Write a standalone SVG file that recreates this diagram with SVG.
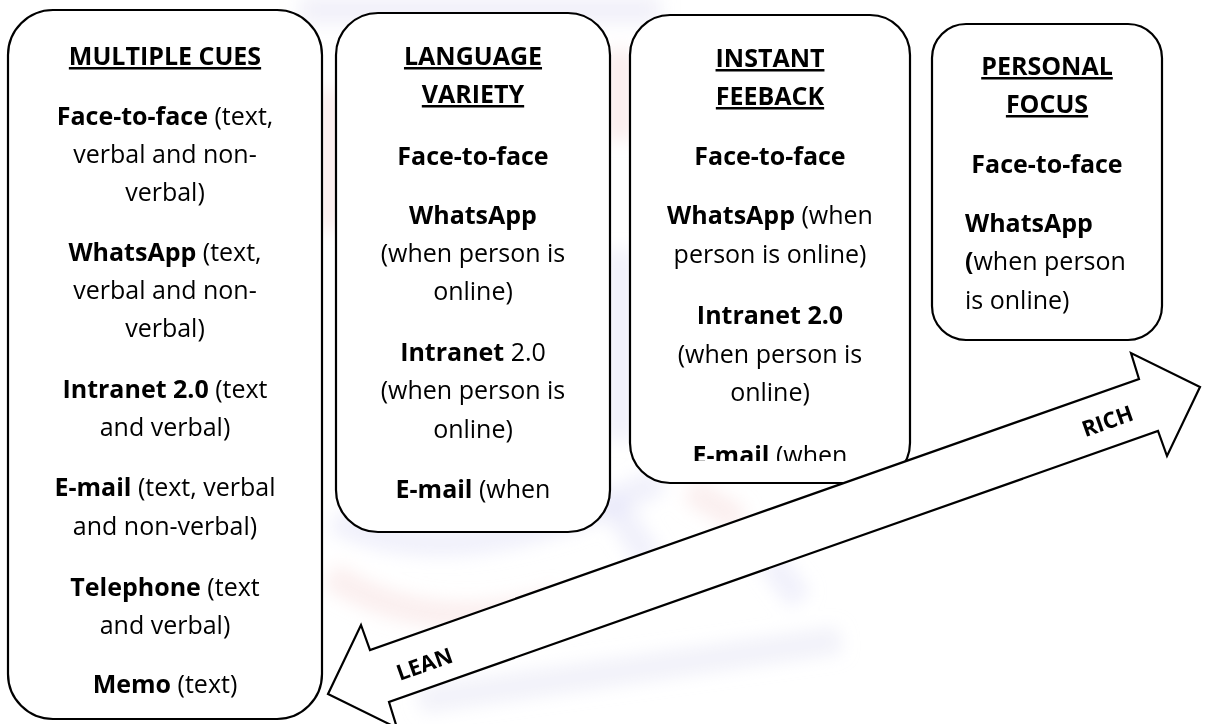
<svg xmlns="http://www.w3.org/2000/svg" width="1206" height="724" viewBox="0 0 1206 724">
  <defs>
    <style>
      .box { fill: #ffffff; stroke: #000000; stroke-width: 2.2; }
      .t { font-family: "Open Sans", Lato, "Liberation Sans", sans-serif; font-size: 25px; fill: #000000; text-anchor: middle; }
      .l { text-anchor: start; }
      .b { font-weight: bold; }
      .h { font-weight: bold; text-decoration: underline; }
      .arrow { fill: #ffffff; stroke: #000000; stroke-width: 2.2; stroke-linejoin: miter; }
      .lab { font-family: "Open Sans", Lato, "Liberation Sans", sans-serif; font-size: 22px; font-weight: bold; fill: #000000; text-anchor: middle; dominant-baseline: central; }
      .wm { fill: none; stroke-width: 26; opacity: 0.5; }
    </style>
    <filter id="soft" x="-20%" y="-20%" width="140%" height="140%">
      <feGaussianBlur stdDeviation="9"/>
    </filter>
    <clipPath id="clip3">
      <rect x="630" y="15" width="280" height="446"/>
    </clipPath>
  </defs>

  <rect width="1206" height="724" fill="#ffffff"/>

  <!-- faint emblem in the background -->
  <g id="watermark" filter="url(#soft)">
    <path class="wm" stroke="#e4e2f4" d="M300,10 L660,10"/>
    <path class="wm" stroke="#f6dada" d="M330,90 L330,230"/>
    <path class="wm" stroke="#f6dada" d="M620,50 L620,140"/>
    <path class="wm" stroke="#e2e2f6" d="M620,250 L620,440"/>
    <path class="wm" stroke="#e2e2f8" d="M335,520 Q460,580 660,480"/>
    <path class="wm" stroke="#f8dddd" d="M330,575 Q430,640 560,600"/>
    <path class="wm" stroke="#f8dddd" d="M690,490 L740,520"/>
    <path class="wm" stroke="#e4e4f4" stroke-width="60" d="M420,700 L840,640"/>
    <path class="wm" stroke="#e2e2f8" d="M610,500 L650,560 M770,560 L800,600"/>
  </g>

  <!-- MULTIPLE CUES -->
  <g id="multiple-cues">
    <rect class="box" x="8" y="10" width="314" height="709" rx="45" ry="45"/>
    <text class="t h" x="165" y="65">MULTIPLE CUES</text>
    <text class="t" x="165" y="125"><tspan class="b">Face-to-face</tspan> (text,</text>
    <text class="t" x="165" y="163">verbal and non-</text>
    <text class="t" x="165" y="201">verbal)</text>
    <text class="t" x="165" y="261"><tspan class="b">WhatsApp</tspan> (text,</text>
    <text class="t" x="165" y="299">verbal and non-</text>
    <text class="t" x="165" y="337">verbal)</text>
    <text class="t" x="165" y="398"><tspan class="b">Intranet 2.0</tspan> (text</text>
    <text class="t" x="165" y="436">and verbal)</text>
    <text class="t" x="165" y="496"><tspan class="b">E-mail</tspan> (text, verbal</text>
    <text class="t" x="165" y="535">and non-verbal)</text>
    <text class="t" x="165" y="596"><tspan class="b">Telephone</tspan> (text</text>
    <text class="t" x="165" y="634">and verbal)</text>
    <text class="t" x="165" y="693"><tspan class="b">Memo</tspan> (text)</text>
  </g>

  <!-- LANGUAGE VARIETY -->
  <g id="language-variety">
    <rect class="box" x="336" y="13" width="274" height="519" rx="42" ry="42"/>
    <text class="t h" x="473" y="65">LANGUAGE</text>
    <text class="t h" x="473" y="103">VARIETY</text>
    <text class="t b" x="473" y="165">Face-to-face</text>
    <text class="t b" x="473" y="224">WhatsApp</text>
    <text class="t" x="473" y="262">(when person is</text>
    <text class="t" x="473" y="300">online)</text>
    <text class="t" x="473" y="361"><tspan class="b">Intranet</tspan> 2.0</text>
    <text class="t" x="473" y="399">(when person is</text>
    <text class="t" x="473" y="438">online)</text>
    <text class="t" x="473" y="498"><tspan class="b">E-mail</tspan> (when</text>
  </g>

  <!-- INSTANT FEEBACK -->
  <g id="instant-feedback">
    <rect class="box" x="630" y="15" width="280" height="468" rx="40" ry="40"/>
    <g clip-path="url(#clip3)">
      <text class="t h" x="770" y="67">INSTANT</text>
      <text class="t h" x="770" y="105">FEEBACK</text>
      <text class="t b" x="770" y="165">Face-to-face</text>
      <text class="t" x="770" y="224"><tspan class="b">WhatsApp</tspan> (when</text>
      <text class="t" x="770" y="263">person is online)</text>
      <text class="t b" x="770" y="324">Intranet 2.0</text>
      <text class="t" x="770" y="363">(when person is</text>
      <text class="t" x="770" y="401">online)</text>
      <text class="t" x="770" y="464"><tspan class="b">E-mail</tspan> (when</text>
    </g>
  </g>

  <!-- PERSONAL FOCUS -->
  <g id="personal-focus">
    <rect class="box" x="932" y="24" width="230" height="316" rx="34" ry="34"/>
    <text class="t h" x="1047" y="75">PERSONAL</text>
    <text class="t h" x="1047" y="113">FOCUS</text>
    <text class="t b" x="1047" y="173">Face-to-face</text>
    <text class="t l b" x="965" y="232">WhatsApp</text>
    <text class="t l" x="965" y="270"><tspan class="b">(</tspan>when person</text>
    <text class="t l" x="965" y="309">is online)</text>
  </g>

  <!-- LEAN to RICH scale -->
  <g id="connectors">
    <polygon class="arrow" points="328,694 361,625 370,650 1139,379 1131,353 1200,387 1167,456 1158,431 389,702 397,728"/>
    <text class="lab" transform="translate(1107,420) rotate(-19.45)">RICH</text>
    <text class="lab" transform="translate(424,663) rotate(-19.45)">LEAN</text>
  </g>
</svg>
